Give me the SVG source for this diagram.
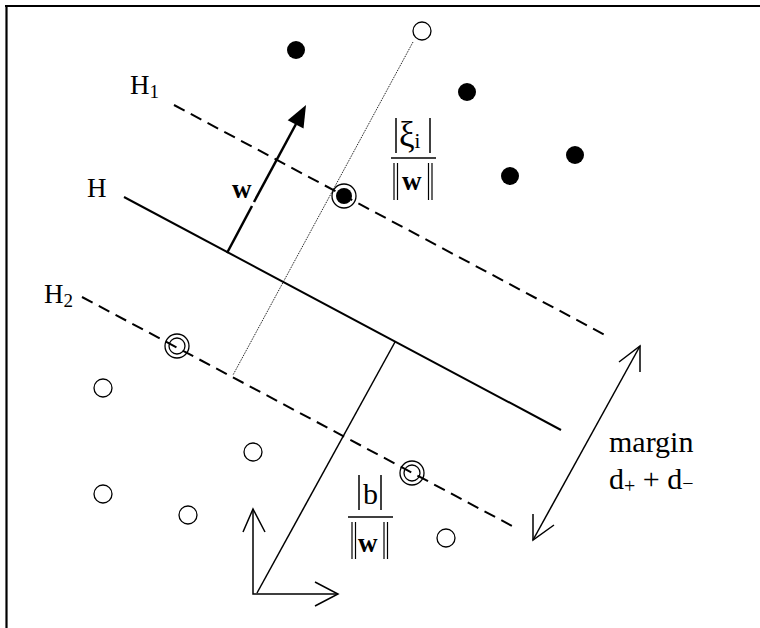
<svg xmlns="http://www.w3.org/2000/svg" width="760" height="628" viewBox="0 0 760 628">
<style>
.t{font-family:"Liberation Serif","Times New Roman",serif;fill:#000}
.ln{stroke:#000;fill:none}
.dash{stroke:#000;stroke-width:2;stroke-dasharray:12,7;fill:none}
.open{fill:#fff;stroke:#000;stroke-width:1.3}
.ring{fill:none;stroke:#000;stroke-width:1.3}
.dot{fill:#000}
</style>
<rect width="760" height="628" fill="#fff"/>
<g id="frame">
<line class="ln" x1="5" y1="6" x2="760" y2="6" stroke-width="2.2"/>
<line class="ln" x1="6.5" y1="5" x2="6.5" y2="628" stroke-width="2.2"/>
</g>
<g id="connectors">
<line id="H1line" class="dash" x1="174" y1="105" x2="605" y2="335"/>
<line id="H2line" class="dash" x1="82" y1="297" x2="514" y2="527"/>
<line id="Hline" class="ln" stroke-width="2" x1="124" y1="197" x2="561" y2="430"/>
<line id="slack" class="ln" stroke="#555" stroke-width="1" stroke-dasharray="1,1" x1="413" y1="42" x2="233" y2="375"/>
<g id="wvector">
<line class="ln" stroke-width="2.5" x1="227" y1="253" x2="252" y2="206"/>
<line class="ln" stroke-width="2.5" x1="254" y1="202" x2="296" y2="124"/>
<polygon points="306,105 287.7,120.2 303.5,128.6" fill="#000"/>
</g>
<line id="bline" class="ln" stroke-width="1.5" x1="395" y1="342" x2="257" y2="593"/>
<g id="margin-arrow">
<line class="ln" stroke-width="1.5" x1="533" y1="540" x2="640" y2="346"/>
<polyline class="ln" stroke-width="1.5" points="619,362 640,346 640,372"/>
<polyline class="ln" stroke-width="1.5" points="533,514 533,540 554,525"/>
</g>
<g id="axes">
<polyline class="ln" stroke-width="1.5" points="253,509 253,594 338,594"/>
<polyline class="ln" stroke-width="1.5" points="243,532 253,509 265,532"/>
<polyline class="ln" stroke-width="1.5" points="315,582 338,594 315,606"/>
</g>
</g>
<g id="class-positive">
<circle class="dot" cx="296" cy="50" r="9"/>
<circle class="dot" cx="467" cy="92" r="9"/>
<circle class="dot" cx="575" cy="155" r="9"/>
<circle class="dot" cx="510" cy="176" r="9"/>
</g>
<g id="sv-positive">
<circle class="dot" cx="344" cy="196" r="8"/>
<circle class="ring" cx="344" cy="196" r="12"/>
</g>
<g id="class-negative">
<circle class="open" cx="422" cy="31" r="9"/>
<circle class="open" cx="103" cy="388" r="9"/>
<circle class="open" cx="253" cy="452" r="9"/>
<circle class="open" cx="103" cy="494" r="9"/>
<circle class="open" cx="188" cy="515" r="9"/>
<circle class="open" cx="446" cy="538" r="9"/>
</g>
<g id="sv-negative">
<circle class="ring" cx="177" cy="346" r="8"/>
<circle class="ring" cx="177" cy="346" r="12"/>
<circle class="ring" cx="412" cy="473" r="8"/>
<circle class="ring" cx="412" cy="473" r="12"/>
</g>
<g id="label-H1"><text class="t" x="130" y="94" font-size="27">H<tspan font-size="19" dy="4">1</tspan></text></g>
<g id="label-H"><text class="t" x="87" y="197" font-size="27">H</text></g>
<g id="label-H2"><text class="t" x="44" y="303" font-size="27">H<tspan font-size="19" dy="4">2</tspan></text></g>
<g id="label-w"><text class="t" x="232" y="198" font-size="27" font-weight="bold">w</text></g>
<g id="label-xi">
<line class="ln" stroke-width="1.5" x1="396" y1="118" x2="396" y2="153"/>
<text class="t" x="399" y="146" font-size="35">ξ<tspan font-size="21" dy="2">i</tspan></text>
<line class="ln" stroke-width="1.5" x1="430" y1="118" x2="430" y2="153"/>
<line class="ln" stroke-width="1.5" x1="391" y1="158" x2="436" y2="158"/>
<line class="ln" stroke-width="1.2" x1="394" y1="163" x2="394" y2="200"/>
<line class="ln" stroke-width="1.2" x1="397.5" y1="163" x2="397.5" y2="200"/>
<text class="t" x="402" y="190" font-size="27" font-weight="bold">w</text>
<line class="ln" stroke-width="1.2" x1="428.5" y1="163" x2="428.5" y2="200"/>
<line class="ln" stroke-width="1.2" x1="432" y1="163" x2="432" y2="200"/>
</g>
<g id="label-b">
<line class="ln" stroke-width="1.5" x1="359" y1="475" x2="359" y2="510"/>
<text class="t" x="363" y="504" font-size="30">b</text>
<line class="ln" stroke-width="1.5" x1="381" y1="475" x2="381" y2="510"/>
<line class="ln" stroke-width="1.5" x1="348" y1="517" x2="393" y2="517"/>
<line class="ln" stroke-width="1.2" x1="352" y1="522" x2="352" y2="559"/>
<line class="ln" stroke-width="1.2" x1="355.5" y1="522" x2="355.5" y2="559"/>
<text class="t" x="358" y="552" font-size="27" font-weight="bold">w</text>
<line class="ln" stroke-width="1.2" x1="384" y1="522" x2="384" y2="559"/>
<line class="ln" stroke-width="1.2" x1="387.5" y1="522" x2="387.5" y2="559"/>
</g>
<g id="label-margin">
<text class="t" x="609" y="452" font-size="30">margin</text>
<text class="t" x="609" y="489" font-size="30">d<tspan font-size="20" dy="4">+</tspan><tspan dy="-4"> + d</tspan><tspan font-size="20" dy="1">−</tspan></text>
</g>
</svg>
